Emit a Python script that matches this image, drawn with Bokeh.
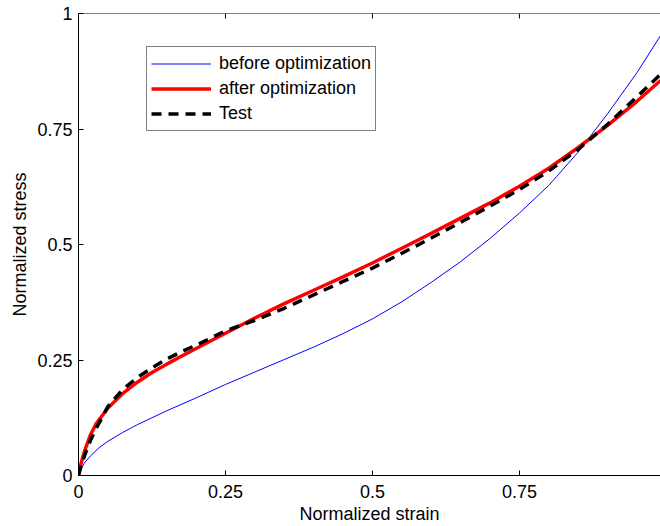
from bokeh.plotting import figure
from bokeh.models import Range1d, FixedTicker, Legend, LegendItem, Span
from bokeh.embed import file_html
from bokeh.resources import INLINE

# ---- data ----
strain_before = [0, 0.003, 0.01, 0.02, 0.035, 0.05, 0.075, 0.1, 0.15, 0.2, 0.25, 0.3, 0.35, 0.4,
                 0.45, 0.5, 0.55, 0.6, 0.65, 0.7, 0.75, 0.8, 0.85, 0.9, 0.95, 0.99]
stress_before = [0, 0.012, 0.027, 0.042, 0.06, 0.074, 0.093, 0.11, 0.14, 0.168, 0.197, 0.224, 0.251, 0.278,
                 0.307, 0.339, 0.376, 0.418, 0.463, 0.513, 0.568, 0.628, 0.7, 0.783, 0.872, 0.952]

strain_after = [0, 0.003, 0.01, 0.02, 0.03, 0.05, 0.075, 0.1, 0.125, 0.15, 0.175, 0.2, 0.25, 0.3, 0.35,
                0.4, 0.45, 0.5, 0.55, 0.6, 0.65, 0.7, 0.75, 0.8, 0.85, 0.9, 0.95, 0.99]
stress_after = [0, 0.02, 0.052, 0.087, 0.112, 0.146, 0.177, 0.202, 0.223, 0.241, 0.258, 0.275, 0.308, 0.341,
                0.372, 0.401, 0.43, 0.46, 0.492, 0.524, 0.557, 0.59, 0.626, 0.665, 0.71, 0.758, 0.81, 0.855]

strain_test = [0, 0.003, 0.01, 0.02, 0.03, 0.05, 0.075, 0.1, 0.125, 0.15, 0.175, 0.2, 0.25, 0.3, 0.35,
               0.4, 0.45, 0.5, 0.55, 0.6, 0.65, 0.7, 0.75, 0.8, 0.85, 0.9, 0.95, 0.99]
stress_test = [0, 0.014, 0.042, 0.075, 0.102, 0.149, 0.186, 0.212, 0.233, 0.252, 0.268, 0.282, 0.313, 0.336,
               0.362, 0.391, 0.42, 0.449, 0.481, 0.514, 0.548, 0.583, 0.619, 0.659, 0.706, 0.76, 0.82, 0.868]

series_labels = ["before optimization", "after optimization", "Test"]
x_ticks = [0, 0.25, 0.5, 0.75]
x_tick_labels = ["0", "0.25", "0.5", "0.75"]
y_ticks = [0, 0.25, 0.5, 0.75, 1]
y_tick_labels = ["0", "0.25", "0.5", "0.75", "1"]
x_title = "Normalized strain"
y_title = "Normalized stress"

FONT = "Liberation Sans"
Y_MIN, Y_MAX = 0, 1
FRAME_H = 463  # px of plot frame height

p = figure(width=660, height=526, output_backend="svg", toolbar_location=None,
           x_range=Range1d(0, 0.99), y_range=Range1d(Y_MIN, Y_MAX),
           min_border_left=78, min_border_top=13, min_border_right=0, min_border_bottom=0)
p.outline_line_color = None
p.grid.visible = False
p.background_fill_color = "white"
p.border_fill_color = "white"

r_before = p.line(strain_before, stress_before, line_color="#0000ff", line_width=1)
r_after = p.line(strain_after, stress_after, line_color="#ff0000", line_width=3.5)
r_test = p.line(strain_test, stress_test, line_color="black", line_width=3.5, line_dash="10 7")

for ax, ticks, labels in ((p.xaxis[0], x_ticks, x_tick_labels), (p.yaxis[0], y_ticks, y_tick_labels)):
    ax.ticker = FixedTicker(ticks=ticks)
    ax.major_label_overrides = {t: l for t, l in zip(ticks, labels)}
    ax.major_tick_in = 5
    ax.major_tick_out = 0
    ax.minor_tick_line_color = None
    ax.axis_line_color = "black"
    ax.major_tick_line_color = "black"
    ax.major_label_text_font = FONT
    ax.major_label_text_font_size = "18px"
    ax.major_label_text_color = "black"
    ax.axis_label_text_font = FONT
    ax.axis_label_text_font_size = "18px"
    ax.axis_label_text_font_style = "normal"
    ax.axis_label_text_color = "black"

p.xaxis[0].axis_label = x_title
p.yaxis[0].axis_label = y_title
p.xaxis[0].major_label_standoff = 9
p.xaxis[0].axis_label_standoff = 3
p.yaxis[0].major_label_standoff = 6
p.yaxis[0].axis_label_standoff = 4

# top border of the box with inward ticks (MATLAB style)
p.add_layout(Span(location=Y_MAX, dimension="width", line_color="black", line_width=1))
tick_len = 5 * (Y_MAX - Y_MIN) / FRAME_H
p.segment(x0=x_ticks[1:], y0=[Y_MAX] * (len(x_ticks) - 1),
          x1=x_ticks[1:], y1=[Y_MAX - tick_len] * (len(x_ticks) - 1),
          line_color="black", line_width=1)

legend = Legend(items=[LegendItem(label=series_labels[0], renderers=[r_before]),
                       LegendItem(label=series_labels[1], renderers=[r_after]),
                       LegendItem(label=series_labels[2], renderers=[r_test])],
                location=(68, 344))
legend.label_text_font = FONT
legend.label_text_font_size = "18px"
legend.label_text_color = "black"
legend.glyph_width = 60
legend.glyph_height = 25
legend.label_height = 25
legend.label_standoff = 8
legend.padding = 4
legend.spacing = 0
legend.margin = 0
legend.border_line_color = "black"
legend.border_line_width = 1
legend.background_fill_color = "white"
legend.background_fill_alpha = 1
p.add_layout(legend, "center")

open("out.html", "w").write(file_html(p, INLINE))
